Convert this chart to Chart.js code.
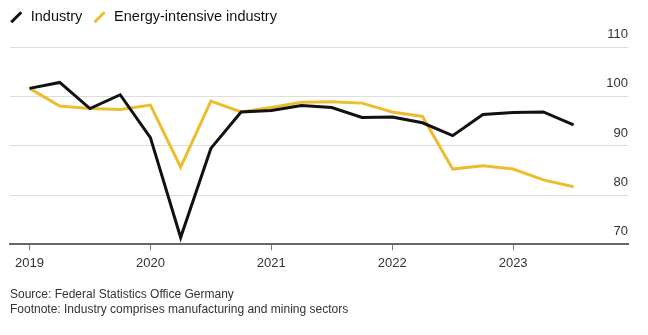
<!DOCTYPE html>
<html>
<head>
<meta charset="utf-8">
<script src="https://cdn.jsdelivr.net/npm/chart.js@4.4.1/dist/chart.umd.min.js"></script>
<style>
  html, body { margin: 0; padding: 0; background: #fff; }
  #wrap { width: 648px; height: 335px; position: relative; }
</style>
</head>
<body>
<div id="wrap"><canvas id="prodChart"></canvas></div>
<script>
// Trimestri (Q1 2019 - Q3 2023)
const quarters = [
  '2019 Q1', '2019 Q2', '2019 Q3', '2019 Q4',
  '2020 Q1', '2020 Q2', '2020 Q3', '2020 Q4',
  '2021 Q1', '2021 Q2', '2021 Q3', '2021 Q4',
  '2022 Q1', '2022 Q2', '2022 Q3', '2022 Q4',
  '2023 Q1', '2023 Q2', '2023 Q3'
];
const industry = [101.7, 102.9, 97.6, 100.4, 91.7, 71.4, 89.5, 96.9, 97.2, 98.2, 97.8, 95.8, 95.9, 94.7, 92.1, 96.4, 96.8, 96.9, 94.3];
const energyIntensive = [101.7, 98.1, 97.6, 97.4, 98.3, 85.7, 99.1, 96.9, 97.8, 98.9, 99.0, 98.7, 96.9, 96.0, 85.3, 86.0, 85.3, 83.1, 81.7];
const yearLabels = ['2019', '2020', '2021', '2022', '2023'];
const yTicks = [70, 80, 90, 100, 110];

const FONT = "'Liberation Sans', Arial, sans-serif";

// indice del trimestre sull'asse x lineare
const toPoints = arr => arr.map((v, i) => ({ x: i, y: v }));

// Spazio extra sotto la legenda e legenda spostata un po' a sinistra
const legendSpacing = {
  id: 'legendSpacing',
  beforeInit(chart) {
    const fit = chart.legend.fit;
    chart.legend.fit = function () {
      fit.bind(chart.legend)();
      this.height += 13;
    };
  },
  afterLayout(chart) {
    chart.legend.left -= 11;
  }
};

const ctx = document.getElementById('prodChart').getContext('2d');

new Chart(ctx, {
  type: 'line',
  data: {
    labels: quarters,
    datasets: [
      {
        label: 'Industry',
        data: toPoints(industry),
        borderColor: '#111111',
        backgroundColor: '#111111',
        borderWidth: 3,
        pointRadius: 0,
        tension: 0
      },
      {
        label: 'Energy-intensive industry',
        data: toPoints(energyIntensive),
        borderColor: '#ebbd2f',
        backgroundColor: '#ebbd2f',
        borderWidth: 3,
        pointRadius: 0,
        tension: 0
      }
    ]
  },
  options: {
    responsive: true,
    maintainAspectRatio: false,
    animation: false,
    layout: { padding: { left: 10, right: 20, top: 0, bottom: 18 } },
    plugins: {
      tooltip: { enabled: false },
      legend: {
        position: 'top',
        align: 'start',
        labels: {
          usePointStyle: true,
          pointStyle: 'line',
          boxHeight: 10,
          color: '#111',
          padding: 10,
          font: { family: FONT, size: 14.5 },
          // icona a barretta inclinata
          generateLabels(chart) {
            return Chart.defaults.plugins.legend.labels.generateLabels(chart)
              .map(l => ({ ...l, rotation: -45, lineWidth: 3 }));
          }
        }
      },
      title: {
        display: true,
        position: 'bottom',
        align: 'start',
        text: [
          'Source: Federal Statistics Office Germany',
          'Footnote: Industry comprises manufacturing and mining sectors'
        ],
        color: '#333',
        font: { family: FONT, size: 12, weight: 'normal', lineHeight: 1.25 },
        padding: { top: 11, bottom: 0 }
      }
    },
    scales: {
      x: {
        type: 'linear',
        min: -0.645,
        max: 19.8,
        afterBuildTicks(axis) {
          axis.ticks = yearLabels.map((_, i) => ({ value: i * 4 }));
        },
        ticks: {
          autoSkip: false,
          maxRotation: 0,
          color: '#333',
          padding: 5,
          font: { family: FONT, size: 13 },
          callback: (value) => yearLabels[Math.round(value / 4)]
        },
        grid: {
          display: true,
          drawOnChartArea: false,
          drawTicks: true,
          tickLength: 6,
          tickColor: '#777',
          tickWidth: 1
        },
        border: { display: true, color: '#666', width: 2 }
      },
      y: {
        position: 'right',
        min: 70,
        max: 110,
        afterBuildTicks(axis) {
          axis.ticks = yTicks.map(v => ({ value: v }));
        },
        ticks: {
          mirror: true,
          padding: 0,
          labelOffset: -13,
          color: '#333',
          font: { family: FONT, size: 13 }
        },
        grid: {
          color: '#dddddd',
          lineWidth: 1,
          drawTicks: false
        },
        border: { display: false }
      }
    }
  },
  plugins: [legendSpacing]
});
</script>
</body>
</html>
